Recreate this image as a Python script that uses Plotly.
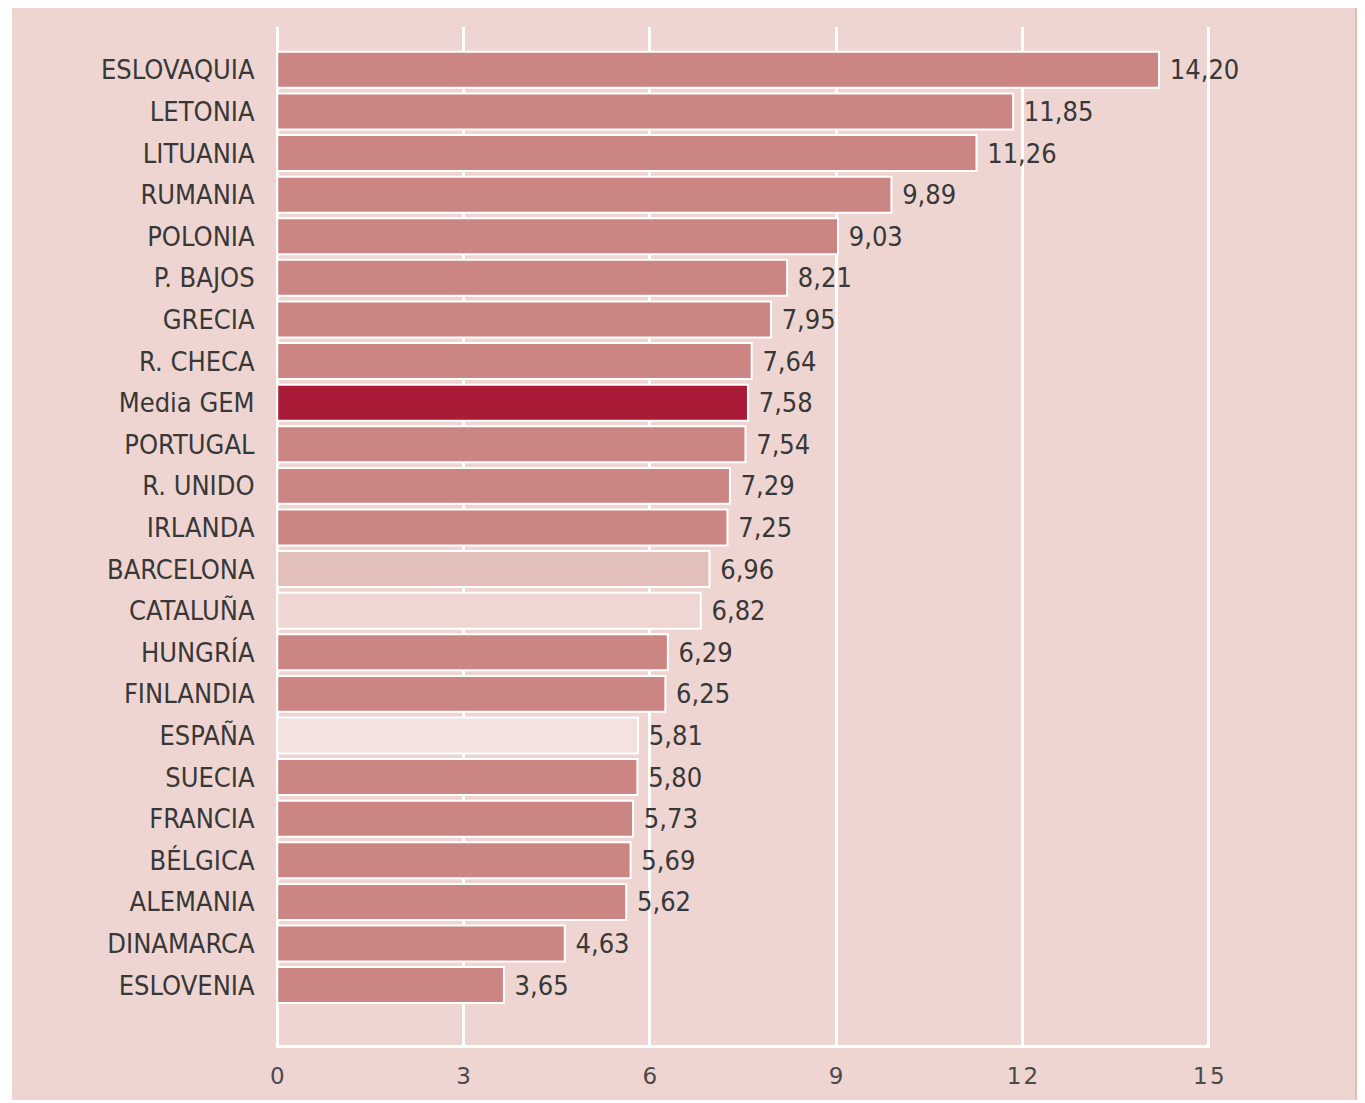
import plotly.graph_objects as go

categories = ["ESLOVAQUIA", "LETONIA", "LITUANIA", "RUMANIA", "POLONIA", "P. BAJOS",
              "GRECIA", "R. CHECA", "Media GEM", "PORTUGAL", "R. UNIDO", "IRLANDA",
              "BARCELONA", "CATALUÑA", "HUNGRÍA", "FINLANDIA", "ESPAÑA", "SUECIA",
              "FRANCIA", "BÉLGICA", "ALEMANIA", "DINAMARCA", "ESLOVENIA"]
values = [14.20, 11.85, 11.26, 9.89, 9.03, 8.21, 7.95, 7.64, 7.58, 7.54, 7.29, 7.25,
          6.96, 6.82, 6.29, 6.25, 5.81, 5.80, 5.73, 5.69, 5.62, 4.63, 3.65]
x_ticks = [0, 3, 6, 9, 12, 15]

BG = "#efd5d1"
BASE = "#cb8582"
special = {"Media GEM": "#a91b36", "BARCELONA": "#e3bfb9",
           "CATALUÑA": "#f0d6d2", "ESPAÑA": "#f3e2df"}
colors = [special.get(c, BASE) for c in categories]
labels = [f"{v:.2f}".replace(".", ",") for v in values]
tick_text = ["\u200a".join(str(t)) for t in x_ticks]

# page body has an 8px margin; figure coords = page coords - 8
OFF = 8
W, H = 1365 - OFF, 1103 - OFF
L = 276 - OFF
R = W - (1210 - OFF)
T = 27 - OFF
B = H - (1045 - OFF)
pw, ph = W - L - R, H - T - B

COND = "Liberation Sans Narrow, DejaVu Sans Condensed, Roboto, sans-serif"

fig = go.Figure(go.Bar(
    x=values, y=categories, orientation="h",
    marker=dict(color=colors, line=dict(color="white", width=2)),
    width=0.865,
    text=[" " + s for s in labels], textposition="outside",
    outsidetextfont=dict(family=COND, size=27, color="#383838"),
    cliponaxis=False, hoverinfo="skip",
))

def px2x(p):
    return (p - OFF - L) / pw

def py2y(p):
    return (H - B - (p - OFF)) / ph

shapes = [
    dict(type="rect", xref="paper", yref="paper", layer="below",
         x0=px2x(12), x1=px2x(1355), y0=py2y(1100), y1=py2y(5),
         fillcolor=BG, line=dict(width=0)),
    dict(type="rect", xref="paper", yref="paper", layer="below",
         x0=px2x(1355), x1=px2x(1370), y0=py2y(1100), y1=py2y(5),
         fillcolor="#e4bdb8", line=dict(width=0)),
]

fig.update_layout(
    width=W, height=H,
    margin=dict(l=L, r=R, t=T, b=B, pad=0),
    paper_bgcolor="white", plot_bgcolor=BG,
    showlegend=False, shapes=shapes, bargap=0.1,
    xaxis=dict(range=[-0.02, 15.02], tickvals=x_ticks, ticktext=tick_text,
               showgrid=True, gridcolor="white", gridwidth=3,
               zeroline=True, zerolinecolor="white", zerolinewidth=3,
               showline=True, linecolor="white", linewidth=3,
               ticks="outside", ticklen=8, tickcolor="rgba(0,0,0,0)",
               tickfont=dict(family="DejaVu Sans, sans-serif", size=23, color="#4a4a4a"),
               fixedrange=True),
    yaxis=dict(categoryorder="array", categoryarray=categories,
               range=[23.44, -1.03], autorange=False, showgrid=False, zeroline=False,
               ticks="outside", ticklen=15, tickcolor="rgba(0,0,0,0)",
               tickfont=dict(family=COND, size=27, color="#383838"),
               fixedrange=True),
)

fig.write_html("out.html")
